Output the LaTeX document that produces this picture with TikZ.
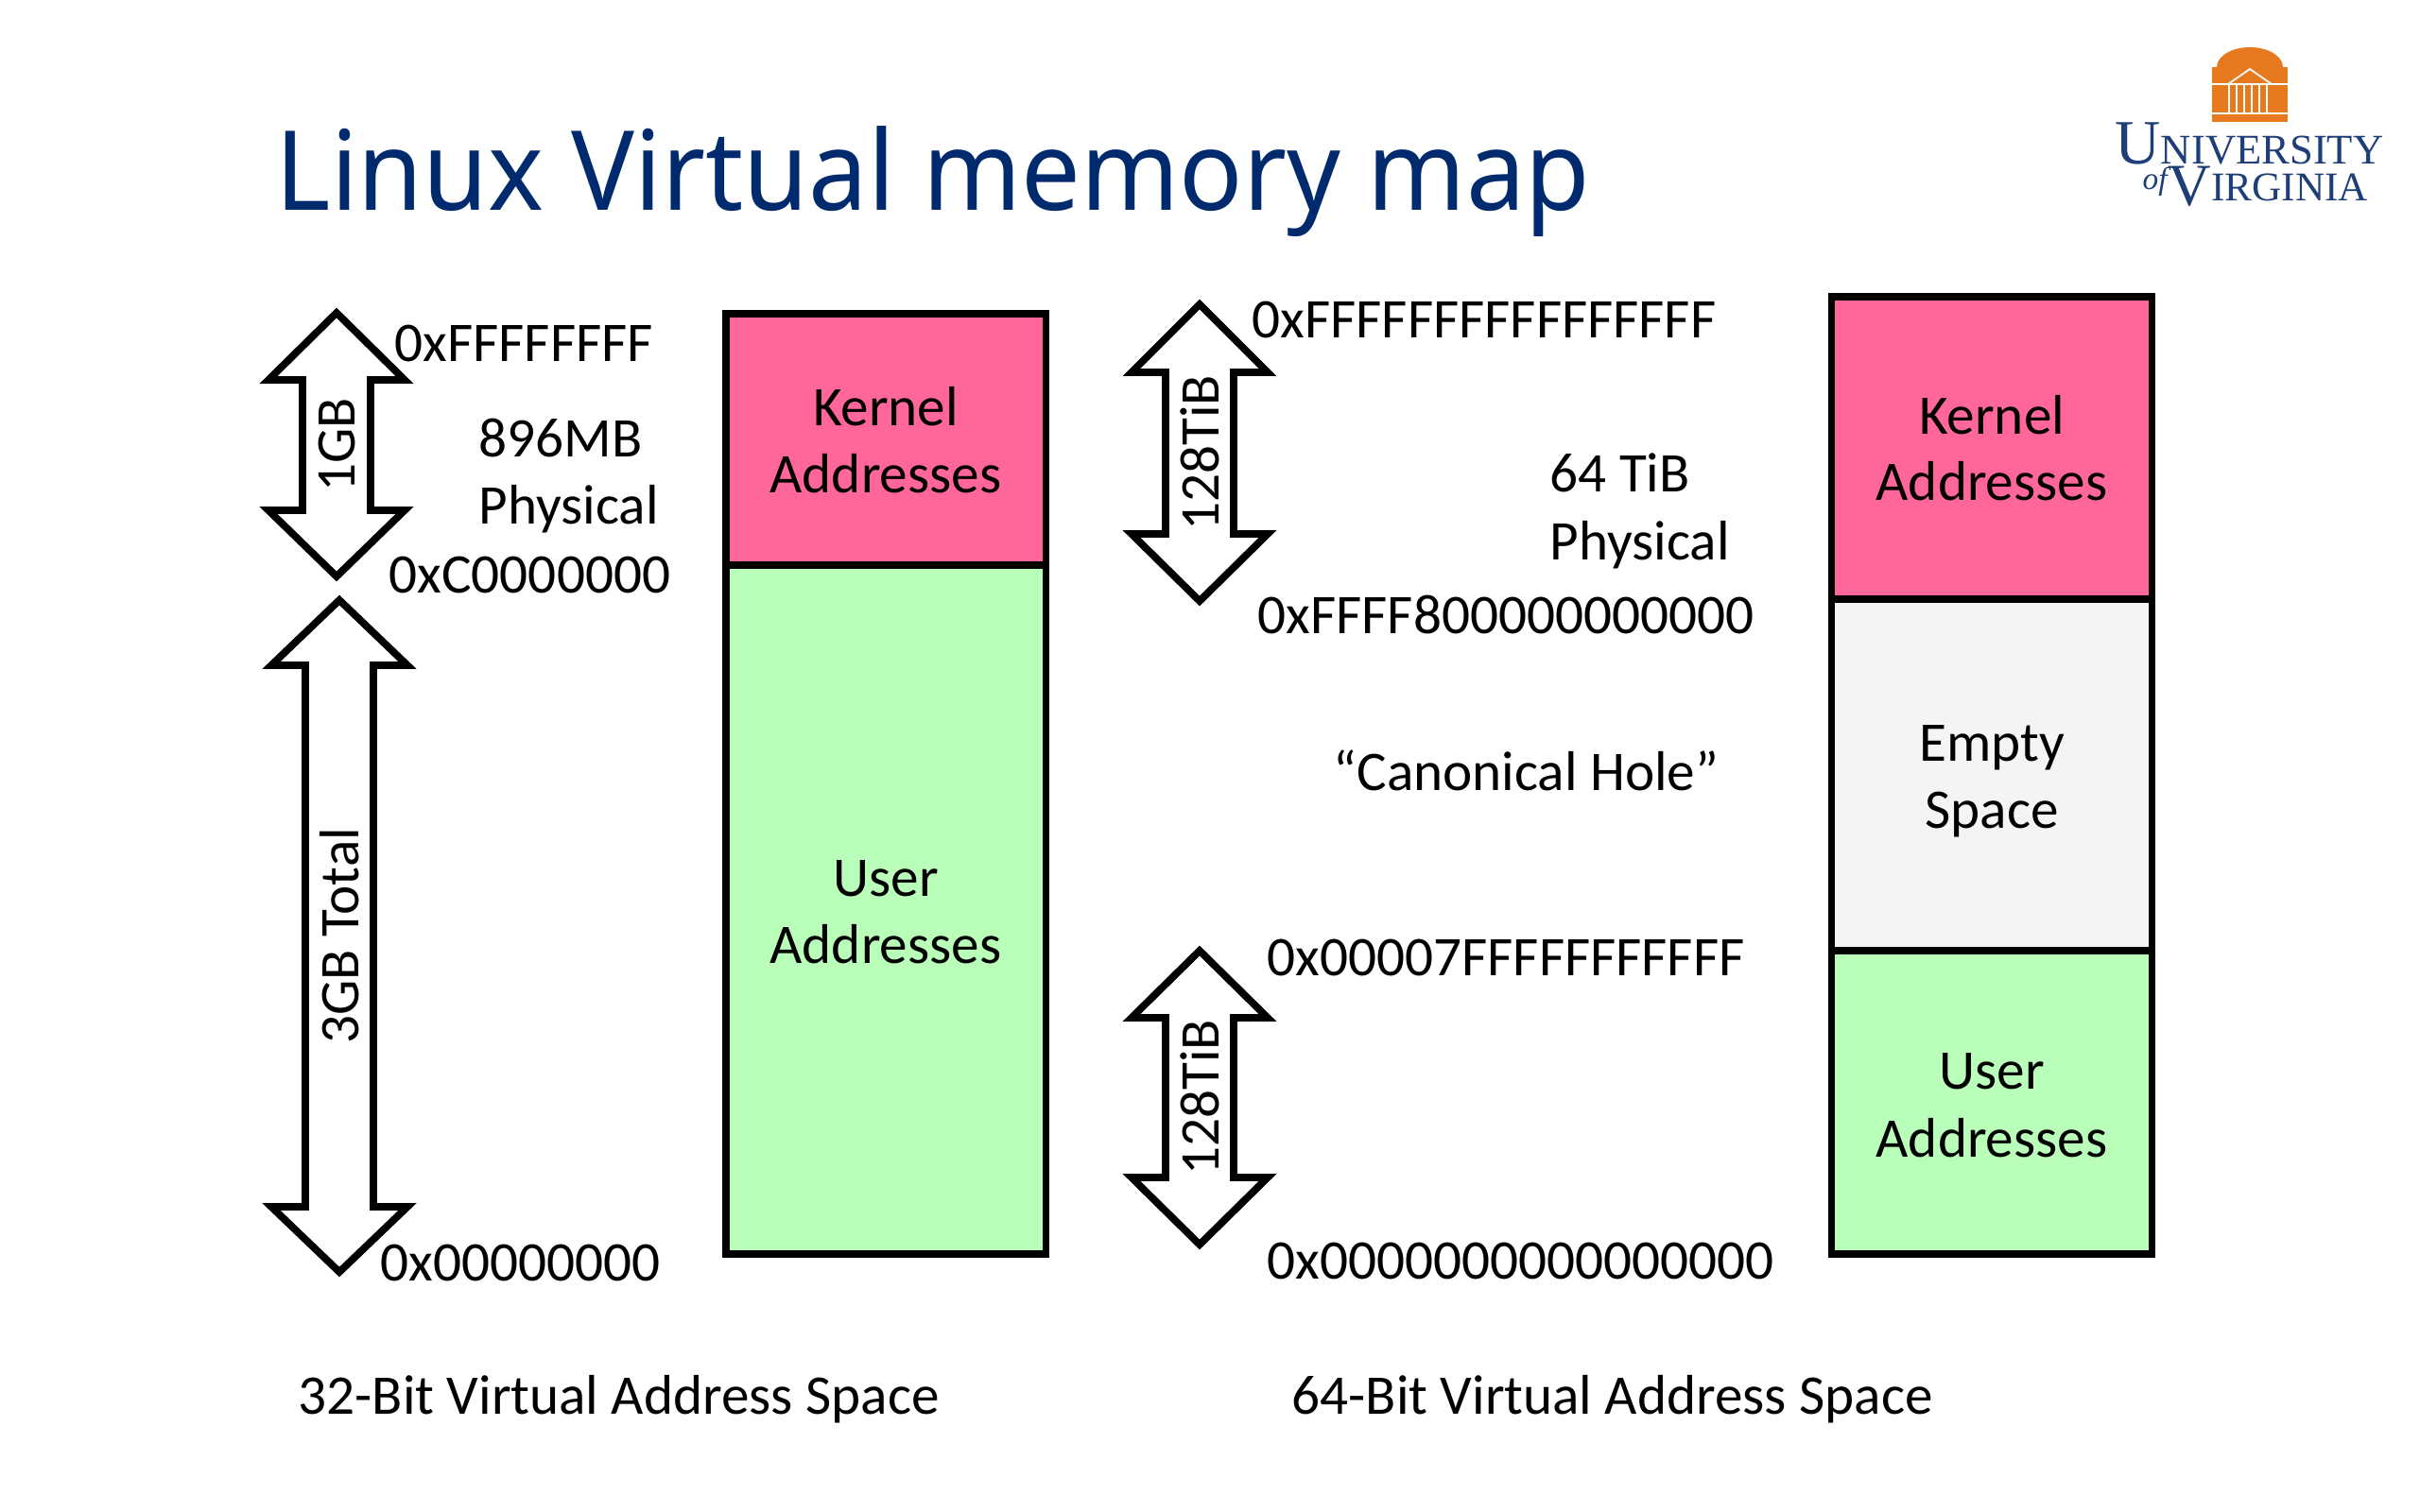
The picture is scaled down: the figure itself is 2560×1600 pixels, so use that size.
\documentclass[tikz,border=0pt]{standalone}
\usepackage{fontspec}
\setmainfont{Carlito}
\newfontfamily\titlefont{Noto Sans}
\newfontfamily\logofont{Liberation Serif}
\usetikzlibrary{positioning}
\tikzset{
	memlabel/.style={inner sep=0pt, font=\fontsize{16.85}{20.4}\selectfont},
	memleft/.style={memlabel, anchor=base west},
	memmid/.style={memlabel, anchor=base},
	membox/.style={draw=black, line width=2.2pt, line join=miter},
	updown/.style={draw=black, fill=white, line width=2.2pt, line join=miter, miter limit=10},
	logotext/.style={inner sep=0pt, text=uvablue, anchor=base west},
}
\begin{document}
\begin{tikzpicture}[x=0.1mm, y=-0.1mm]
	\definecolor{titleblue}{RGB}{0, 42, 110}
	\definecolor{uvablue}{RGB}{30, 62, 120}
	\definecolor{uvaorange}{RGB}{230, 120, 30}
	\definecolor{kernelpink}{RGB}{255, 102, 153}
	\definecolor{usergreen}{RGB}{185, 255, 185}
	\definecolor{emptygray}{RGB}{244, 244, 244}
	\useasboundingbox (0, 0) rectangle (2560, 1600);

	% title
	\node[inner sep=0pt, anchor=base west, text=titleblue, font=\titlefont\fontsize{33.3}{40}\selectfont] (title) at (291, 222) {\scalebox{0.953}[1]{Linux Virtual memory map}};

	% logo
	\fill[uvaorange] (2345, 71) arc[start angle=180, end angle=360, x radius=35, y radius=21] -- cycle;
	\fill[uvaorange] (2340, 71) rectangle (2420, 129);
	\draw[white, line width=0.5pt] (2357, 89) -- (2380, 73) -- (2403, 89) -- cycle;
	\draw[white, line width=0.5pt] (2340, 89) -- (2420, 89);
	\foreach \x in {2358, 2366, 2374, 2382, 2390, 2398} {
		\draw[white, line width=0.6pt] (\x, 89) -- (\x, 120);
	}
	\draw[white, line width=0.5pt] (2340, 120) -- (2420, 120);
	\node[logotext] (logotop) at (2237, 173) {\logofont{\fontsize{19}{19}\selectfont U}{\fontsize{12.7}{13}\selectfont NIVERSITY}};
	\node[logotext] (logobot) at (2293, 212) {\logofont{\fontsize{18}{18}\selectfont\raisebox{-1.5pt}{V}}{\fontsize{12.3}{13}\selectfont IRGINIA}};
	\node[logotext] (logoof) at (2266, 200) {\logofont\itshape\fontsize{9.5}{10}\selectfont of};

	% arrows
	\foreach \name/\x/\ya/\yb/\yc/\yd/\txt in {
		sizea/356/331/402/540/610/1GB,
		sizeb/359/635/704/1277/1346/3GB Total,
		sizec/1269/322/394/565/636/128TiB,
		sized/1269/1006/1077/1246/1317/128TiB
	} {
		\draw[updown] (\x, \ya) -- (\x + 72, \yb) -- (\x + 36, \yb) -- (\x + 36, \yc) -- (\x + 72, \yc)
			-- (\x, \yd) -- (\x - 72, \yc) -- (\x - 36, \yc) -- (\x - 36, \yb) -- (\x - 72, \yb) -- cycle;
		\node[memlabel, rotate=90] (\name) at (\x, {(\yb + \yc) / 2}) {\txt};
	}

	% 32 bit boxes
	\filldraw[membox, fill=kernelpink] (768, 332) rectangle (1106.5, 598);
	\filldraw[membox, fill=usergreen] (768, 598) rectangle (1106.5, 1327);

	% 64 bit boxes
	\filldraw[membox, fill=kernelpink] (1937.5, 314) rectangle (2276.5, 634);
	\filldraw[membox, fill=emptygray] (1937.5, 634) rectangle (2276.5, 1006);
	\filldraw[membox, fill=usergreen] (1937.5, 1006) rectangle (2276.5, 1327);

	% box texts
	\foreach \name/\x/\y/\txt in {
		kernela/937/450/Kernel,
		addrkernela/937/521/Addresses,
		usera/937/948/User,
		addrusera/937/1019/Addresses,
		kernelb/2107/459/Kernel,
		addrkernelb/2107/529/Addresses,
		emptyb/2107/805/Empty,
		spaceb/2107/876/Space,
		userb/2107/1152/User,
		addruserb/2107/1224/Addresses
	} {
		\node[memmid] (\name) at (\x, \y) {\txt};
	}

	% addresses
	\foreach \name/\x/\y/\txt in {
		addra/417/382/0xFFFFFFFF,
		addrb/411/627/0xC0000000,
		addrc/402/1355/0x00000000,
		addrd/1324/357/0xFFFFFFFFFFFFFFFF,
		addre/1330/670/0xFFFF800000000000,
		addrf/1340/1032/0x00007FFFFFFFFFFF,
		addrg/1340/1353/0x0000000000000000,
		mba/506/483/896MB,
		physa/506/554/Physical,
		tib/1639/520/64 TiB,
		physb/1639/592/Physical,
		hole/1410/836/“Canonical Hole”,
		capa/315/1496/32-Bit Virtual Address Space,
		capb/1366/1496/64-Bit Virtual Address Space
	} {
		\node[memleft] (\name) at (\x, \y) {\txt};
	}
\end{tikzpicture}
\end{document}
